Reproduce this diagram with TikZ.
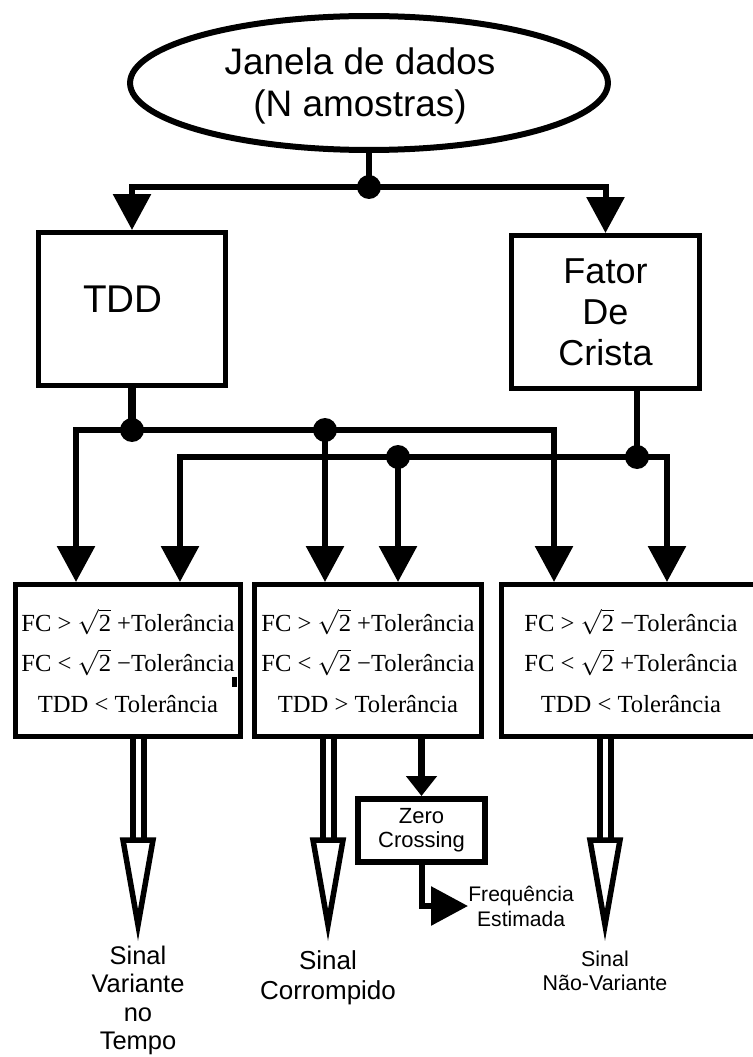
\documentclass[tikz,border=0pt]{standalone}
\usepackage{fontspec}
\setmainfont{Liberation Sans}
\newfontfamily\timesfont{Liberation Serif}
\usetikzlibrary{positioning, arrows.meta, shapes.geometric, calc}
\tikzset{
  block/.style  = {draw, line width=0.1cm, inner sep=0pt, align=center},
  cond/.style   = {block, minimum height=3.04cm, font=\timesfont\fontsize{14}{23}\selectfont},
  arr/.style    = {-{Triangle[length=0.72cm, width=0.74cm]}, line width=0.12cm},
  dot/.style    = {circle, fill, inner sep=0pt, minimum size=0.48cm},
  hollow/.style = {line width=0.11cm, line join=miter},
  sig/.style    = {align=center, inner sep=0pt}
}
\newcommand{\rtwo}{$\sqrt{\mbox{2}}$}
\newcommand{\hollowarrow}[2]{%
  \draw[hollow, line width=0.12cm] ($(#1.south -| #2)+(-5.5,0)$) -- ($(#2)+(-5.5,-85)$)
                                   ($(#1.south -| #2)+(5.5,0)$) -- ($(#2)+(5.5,-85)$);
  \draw[hollow, fill=white] ($(#2)+(-15,-85)$) -- (#2) -- ($(#2)+(15,-85)$) -- cycle;
}

\begin{document}
\begin{tikzpicture}[x=0.02cm, y=-0.02cm]
  \useasboundingbox (0,0) rectangle (752,1057);

  % entrada
  \node[ellipse, draw, line width=0.12cm, minimum width=9.56cm, minimum height=2.68cm,
        label={[font=\fontsize{21}{24}\selectfont, align=center, xshift=-0.18cm, yshift=-0.06cm]center:Janela de dados\\(N amostras)}] (ell) at (369,83) {};

  \node[block, minimum width=3.74cm, minimum height=3.06cm,
        label={[font=\fontsize{22}{26}\selectfont, xshift=-0.18cm, yshift=0.2cm]center:TDD}] (tdd) at (132,309) {};
  \node[block, minimum width=3.76cm, minimum height=3.06cm,
        font=\fontsize{20.5}{23.3}\selectfont] (fc) at (605.5,312) {Fator\\De\\Crista};

  \coordinate (j0) at (369,187);
  \draw[line width=0.12cm] (ell.south) -- (j0);
  \draw[arr] (j0) -| (tdd.north);
  \draw[arr] (j0) -| (fc.north);
  \node[dot] (d0) at (j0) {};

  % condicoes
  \node[cond, minimum width=4.5cm] (b1) at (128,660.5)
    {FC > \rtwo{} +Tolerância\\FC < \rtwo{} −Tolerância\\TDD < Tolerância};
  \node[cond, minimum width=4.54cm] (b2) at (368,660.5)
    {FC > \rtwo{} +Tolerância\\FC < \rtwo{} −Tolerância\\TDD > Tolerância};
  \node[cond, minimum width=5.18cm] (b3) at (631,660.5)
    {FC > \rtwo{} −Tolerância\\FC < \rtwo{} +Tolerância\\TDD < Tolerância};
  \fill (232,677) rectangle (237,687);

  \coordinate (j1) at (132,430);
  \coordinate (j2) at (325,430);
  \coordinate (j3) at (637,457);
  \coordinate (j4) at (398,457);

  \draw[line width=0.16cm] (tdd.south) -- (j1);
  \draw[line width=0.13cm] (fc.south -| j3) -- (j3);
  \draw[arr] (j1) -| ([xshift=-1.04cm]b1.north);
  \draw[arr] (j1) -| ([xshift=-1.54cm]b3.north);
  \draw[arr] (j2) -- (j2 |- b2.north);
  \draw[arr] (j3) -| ([xshift=1.04cm]b1.north);
  \draw[arr] (j3) -| ([xshift=0.72cm]b3.north);
  \draw[arr] (j4) -- (j4 |- b2.north);
  \node[dot] (d1) at (j1) {};
  \node[dot] (d2) at (j2) {};
  \node[dot] (d3) at (j3) {};
  \node[dot] (d4) at (j4) {};

  % zero crossing
  \node[block, line width=0.12cm, minimum width=2.54cm, minimum height=1.26cm,
        font=\fontsize{12.5}{13.5}\selectfont] (zc) at (421.5,830.5) {Zero\\Crossing};
  \node[sig, anchor=west, font=\fontsize{12}{14.2}\selectfont] (fe) at (468,906) {Frequência\\Estimada};
  \draw[-{Triangle[length=0.4cm, width=0.6cm]}, line width=0.14cm] (zc |- b2.south) -- (zc.north);
  \draw[-{Triangle[length=0.74cm, width=0.76cm]}, line width=0.12cm] (zc.south) |- (fe.west);

  % saidas
  \coordinate (t1) at (138,925);
  \coordinate (t2) at (328,925);
  \coordinate (t3) at (605,925);
  \hollowarrow{b1}{t1}
  \hollowarrow{b2}{t2}
  \hollowarrow{b3}{t3}
  \node[sig, below=0.42cm of t1, font=\fontsize{14.5}{16}\selectfont] (s1) {Sinal\\Variante\\no\\Tempo};
  \node[sig, below=0.5cm of t2, font=\fontsize{14.8}{17}\selectfont] (s2) {Sinal\\Corrompido};
  \node[sig, below=0.52cm of t3, font=\fontsize{12.2}{13.7}\selectfont] (s3) {Sinal\\Não-Variante};
\end{tikzpicture}
\end{document}
